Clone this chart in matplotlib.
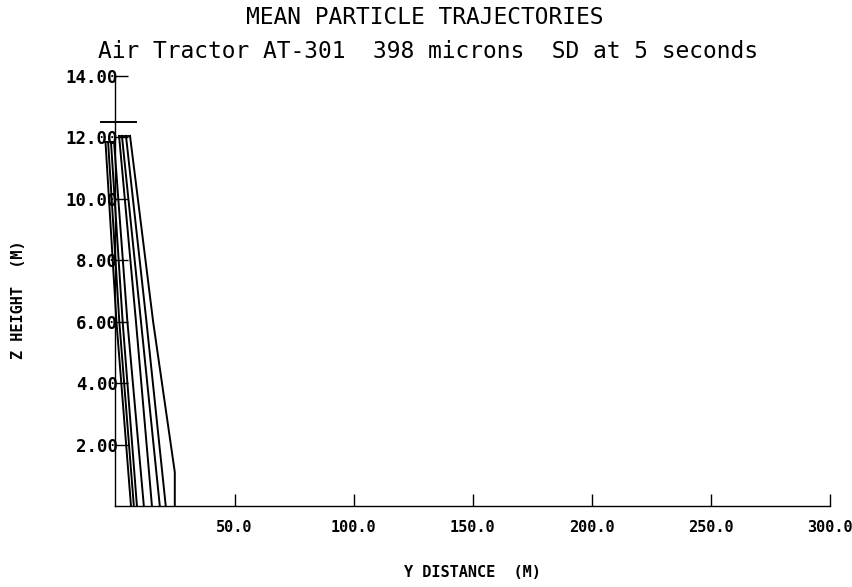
import numpy as np
import matplotlib.pyplot as plt

plt.rcParams.update({
    "font.family": "DejaVu Sans Mono",
    "axes.linewidth": 1.0,
    "xtick.direction": "in",
    "ytick.direction": "in",
})

# heights (m) at which each mean trajectory is sampled
z_left = [11.85, 6.0, 0.0]
z_right = [12.05, 6.0, 0.0]
z_r4 = [12.05, 6.0, 1.1, 0.0]

# lateral (Y) positions in metres
left_tracks = [
    [-4.2, 0.4, 6.5],
    [-3.1, 1.6, 7.7],
    [-1.9, 3.0, 9.0],
    [-0.6, 5.0, 11.9],
]
right_tracks = [
    [1.5, 8.6, 15.3],
    [2.7, 10.7, 18.6],
    [4.4, 13.0, 21.1],
]
r4_track = [6.1, 15.8, 24.9, 24.9]

# release bar
bar_y = [-6.0, 8.6]
bar_z = 12.5

x_ticks = [50, 100, 150, 200, 250, 300]
y_ticks = [2, 4, 6, 8, 10, 12, 14]

fig = plt.figure(figsize=(8.53, 5.87), dpi=100)
ax = fig.add_axes([115.5 / 853, 81 / 587, 714.5 / 853, 430 / 587])

for tr in left_tracks:
    ax.plot(tr, z_left, color="black", lw=1.4, clip_on=False)
for tr in right_tracks:
    ax.plot(tr, z_right, color="black", lw=1.4, clip_on=False)
ax.plot(r4_track, z_r4, color="black", lw=1.4, clip_on=False)

# tops of each group joined at release
tops_l = [t[0] for t in left_tracks]
tops_r = [t[0] for t in right_tracks] + [r4_track[0]]
ax.plot([min(tops_l), max(tops_l)], [z_left[0]] * 2, color="black", lw=1.3, clip_on=False)
ax.plot([min(tops_r), max(tops_r)], [z_right[0]] * 2, color="black", lw=1.3, clip_on=False)

ax.plot(bar_y, [bar_z, bar_z], color="black", lw=1.4, clip_on=False)

ax.set_xlim(0, 300)
ax.set_ylim(0, 14)
ax.spines["top"].set_visible(False)
ax.spines["right"].set_visible(False)

ax.set_xticks(x_ticks)
ax.set_xticklabels([f"{v:.1f}" for v in x_ticks])
ax.set_yticks(y_ticks)
ax.set_yticklabels([f"{v:.2f}" for v in y_ticks])
ax.tick_params(axis="x", length=9, width=1.0, pad=10, labelsize=11)
ax.tick_params(axis="y", length=9, width=1.0, pad=-2, labelsize=12.5)
for lab in ax.get_xticklabels() + ax.get_yticklabels():
    lab.set_fontweight("bold")

ax.set_xlabel("Y DISTANCE  (M)", fontsize=11, fontweight="bold")
ax.set_ylabel("Z HEIGHT  (M)", fontsize=11, fontweight="bold")
ax.xaxis.set_label_coords(0.5, -0.137)
ax.yaxis.set_label_coords(-0.125, 0.48)

fig.text(425 / 853, 1 - 17 / 587, "MEAN PARTICLE TRAJECTORIES",
         ha="center", va="center", fontsize=16.5)
fig.text(428 / 853, 1 - 52 / 587,
         "Air Tractor AT-301  398 microns  SD at 5 seconds",
         ha="center", va="center", fontsize=16.5)

fig.savefig("out.png", dpi=100)
